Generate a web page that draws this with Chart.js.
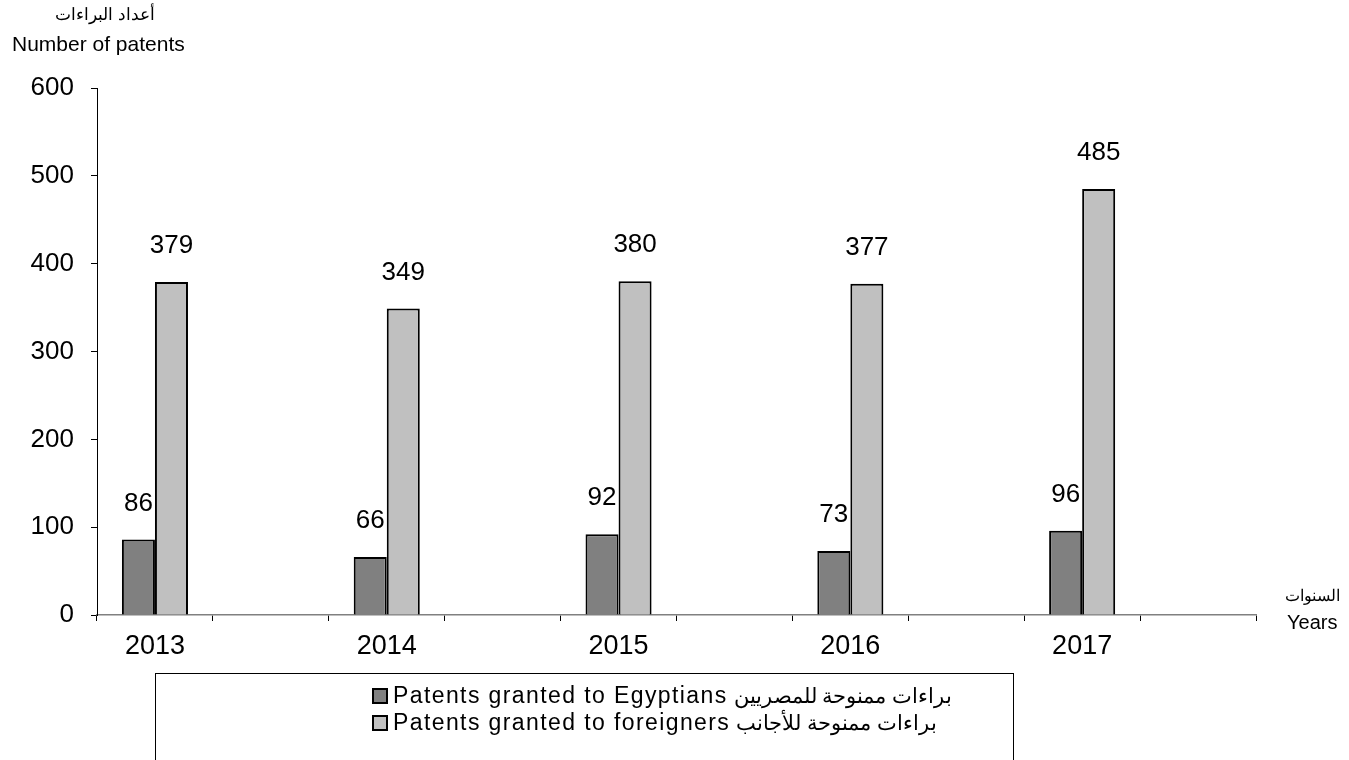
<!DOCTYPE html>
<html>
<head>
<meta charset="utf-8">
<script src="https://cdn.jsdelivr.net/npm/chart.js@4"></script>
<style>
  body { margin: 0; background: #fff; font-family: "Liberation Sans", Arial, sans-serif; }
  #wrap { position: relative; width: 1349px; height: 760px; overflow: hidden; }
  .lbl { position: absolute; color: #000; white-space: nowrap; line-height: 1; }
  #legend { position: absolute; left: 155px; top: 673px; width: 859px; height: 100px; border: 1px solid #000; box-sizing: border-box; }
  .leg-row { position: absolute; left: 216px; font-size: 23px; line-height: 1; display: flex; align-items: center; white-space: pre; }
  .leg-box { width: 12px; height: 12px; border: 2px solid #000; margin-right: 5px; }
  .leg-en { letter-spacing: 1.4px; }
  .leg-ar { font-size: 21px; margin-left: 6px; }
</style>
</head>
<body>
<div id="wrap">
  <canvas id="patentsChart" width="1349" height="760"></canvas>
  <div class="lbl" style="left:55px;top:6px;font-size:17px;">أعداد البراءات</div>
  <div class="lbl" style="left:12px;top:33px;font-size:21px;">Number of patents</div>
  <div class="lbl" style="left:1285px;top:588px;font-size:16px;">السنوات</div>
  <div class="lbl" style="left:1287px;top:612px;font-size:20px;">Years</div>
  <div id="legend"></div>
</div>
<script>
// years with an empty slot after each (original chart spacing)
const years = ['2013', '', '2014', '', '2015', '', '2016', '', '2017', ''];
const egyptians = [86, null, 66, null, 92, null, 73, null, 96, null];
const foreigners = [379, null, 349, null, 380, null, 377, null, 485, null];
const namesEn = ['Patents granted to Egyptians', 'Patents granted to foreigners'];
const namesAr = ['براءات ممنوحة للمصريين', 'براءات ممنوحة للأجانب'];
const seriesColors = ['#808080', '#c0c0c0'];

// value labels above bars
const valueLabels = {
  id: 'valueLabels',
  afterDatasetsDraw(chart) {
    const ctx = chart.ctx;
    ctx.save();
    ctx.font = '26px "Liberation Sans", Arial, sans-serif';
    ctx.fillStyle = '#000';
    ctx.textAlign = 'center';
    ctx.textBaseline = 'middle';
    chart.data.datasets.forEach((ds, i) => {
      chart.getDatasetMeta(i).data.forEach((bar, j) => {
        if (ds.data[j] == null) return;
        ctx.fillText(ds.data[j], bar.x, bar.y - 36);
      });
    });
    ctx.restore();
  }
};

const ctx = document.getElementById('patentsChart').getContext('2d');
const chart = new Chart(ctx, {
  type: 'bar',
  data: {
    labels: years,
    datasets: [
      { label: namesEn[0] + ' ' + namesAr[0], data: egyptians, backgroundColor: seriesColors[0], borderColor: '#000', borderWidth: 2 },
      { label: namesEn[1] + ' ' + namesAr[1], data: foreigners, backgroundColor: seriesColors[1], borderColor: '#000', borderWidth: 2 }
    ]
  },
  options: {
    responsive: false,
    animation: false,
    skipNull: false,
    categoryPercentage: 0.57,
    barPercentage: 1,
    layout: { padding: { top: 88, right: 93, left: 0, bottom: 0 } },
    plugins: { legend: { display: false }, tooltip: { enabled: false } },
    scales: {
      x: {
        offset: true,
        grid: { offset: true, drawOnChartArea: false, tickLength: 6, color: '#000' },
        border: { color: '#808080', width: 1.5 },
        ticks: {
          color: '#000', padding: 9, autoSkip: false, maxRotation: 0,
          font: { family: '"Liberation Sans", Arial, sans-serif', size: 27 }
        },
        afterFit: s => { s.height = 145; }
      },
      y: {
        min: 0, max: 600,
        grid: { drawOnChartArea: false, tickLength: 6, color: '#000' },
        border: { color: '#000', width: 1 },
        ticks: {
          stepSize: 100, color: '#000', padding: 17,
          font: { family: '"Liberation Sans", Arial, sans-serif', size: 26 }
        },
        afterFit: s => { s.width = 97; }
      }
    }
  },
  plugins: [valueLabels]
});

// legend box
const legend = document.getElementById('legend');
namesEn.forEach((name, i) => {
  const row = document.createElement('div');
  row.className = 'leg-row';
  row.style.top = (10 + i * 27) + 'px';
  row.innerHTML = '<span class="leg-box" style="background:' + seriesColors[i] + '"></span>' +
    '<span class="leg-en">' + name + '</span><span class="leg-ar" dir="rtl">' + namesAr[i] + '</span>';
  legend.appendChild(row);
});
</script>
</body>
</html>
